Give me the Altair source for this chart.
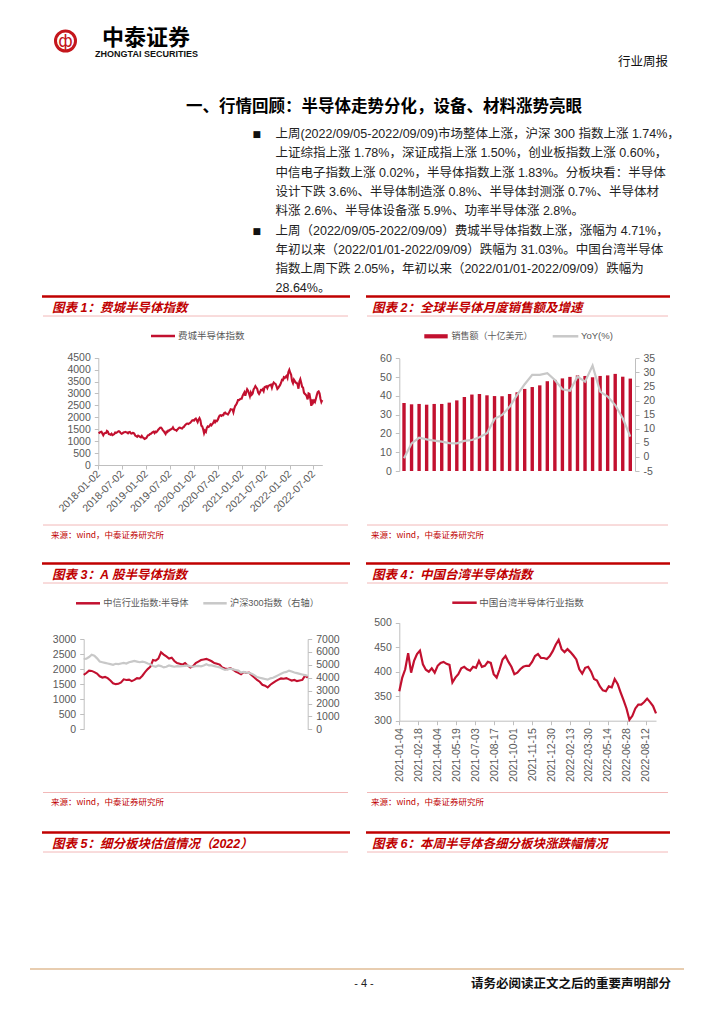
import altair as alt
import pandas as pd

# ---------------- page text ----------------
logo_cn = "中泰证券"
logo_en = "ZHONGTAI SECURITIES"
report_type = "行业周报"
heading = "一、行情回顾：半导体走势分化，设备、材料涨势亮眼"
body_lines = [
    "上周(2022/09/05-2022/09/09)市场整体上涨，沪深 300 指数上涨 1.74%，",
    "上证综指上涨 1.78%，深证成指上涨 1.50%，创业板指数上涨 0.60%，",
    "中信电子指数上涨 0.02%，半导体指数上涨 1.83%。分板块看：半导体",
    "设计下跌 3.6%、半导体制造涨 0.8%、半导体封测涨 0.7%、半导体材",
    "料涨 2.6%、半导体设备涨 5.9%、功率半导体涨 2.8%。",
    "上周（2022/09/05-2022/09/09）费城半导体指数上涨，涨幅为 4.71%，",
    "年初以来（2022/01/01-2022/09/09）跌幅为 31.03%。中国台湾半导体",
    "指数上周下跌 2.05%，年初以来（2022/01/01-2022/09/09）跌幅为",
    "28.64%。",
]
bullet_rows = [0, 5]
panel_titles = [
    "图表 1：费城半导体指数",
    "图表 2：全球半导体月度销售额及增速",
    "图表 3：A 股半导体指数",
    "图表 4：中国台湾半导体指数",
    "图表 5：细分板块估值情况（2022）",
    "图表 6：本周半导体各细分板块涨跌幅情况",
]
source_text = "来源：wind，中泰证券研究所"
page_no = "- 4 -"
disclaimer = "请务必阅读正文之后的重要声明部分"

# ---------------- chart 1: SOX (weekly) ----------------
sox_name = "费城半导体指数"
sox_start = "2018-01-05"
sox_values = [
    1320, 1360, 1390, 1400, 1320, 1250, 1320, 1340, 1340, 1430, 1400, 1300, 1290,
    1270, 1310, 1250, 1270, 1300, 1360, 1350, 1370, 1400, 1420, 1390, 1340, 1310,
    1330, 1360, 1370, 1390, 1370, 1360, 1330, 1380, 1390, 1330, 1320, 1350, 1340,
    1300, 1230, 1210, 1180, 1230, 1210, 1180, 1160, 1220, 1160, 1140, 1090, 1110,
    1130, 1200, 1250, 1260, 1300, 1310, 1350, 1380, 1400, 1340, 1400, 1380, 1420,
    1480, 1520, 1560, 1570, 1530, 1450, 1420, 1360, 1300, 1400, 1380, 1450, 1440,
    1480, 1500, 1520, 1580, 1500, 1480, 1470, 1440, 1490, 1530, 1570, 1560, 1540,
    1530, 1580, 1600, 1660, 1700, 1730, 1740, 1720, 1750, 1770, 1820, 1870, 1880,
    1860, 1920, 1950, 1880, 1800, 1900, 1970, 1880, 1650, 1620, 1500, 1330, 1440,
    1390, 1560, 1620, 1600, 1640, 1700, 1660, 1720, 1760, 1850, 1790, 1860, 1840,
    1900, 2000, 2070, 2090, 2060, 2100, 2090, 2180, 2200, 2150, 2150, 2120, 2180,
    2250, 2340, 2330, 2330, 2210, 2370, 2480, 2530, 2610, 2720, 2720, 2750, 2780,
    2780, 2900, 2980, 3050, 2900, 3050, 3180, 3120, 3000, 2880, 3040, 2950, 3000,
    3170, 3230, 3310, 3250, 3190, 3040, 2980, 3050, 3150, 3140, 3180, 3100, 3260,
    3280, 3300, 3220, 3320, 3330, 3360, 3370, 3240, 3380, 3460, 3420, 3400, 3310,
    3190, 3230, 3300, 3360, 3450, 3570, 3560, 3680, 3650, 3700, 3740, 3650, 3900, 3990,
    3870, 3780, 3520, 3430, 3580, 3520, 3450, 3450, 3380, 3200, 3500, 3600,
    3450, 3280, 3250, 3030, 2980, 2950, 2880, 2750, 3000, 2980, 2760, 2480, 2750,
    2620, 2700, 2640, 2780, 2930, 3060, 3090, 3010, 2780, 2640, 2720,
]
sox_domain = ["2018-01-02", "2022-09-09"]
sox_ticks = ["2018-01-02", "2018-07-02", "2019-01-02", "2019-07-02", "2020-01-02",
             "2020-07-02", "2021-01-02", "2021-07-02", "2022-01-02", "2022-07-02"]
sox_y_ticks = [0, 500, 1000, 1500, 2000, 2500, 3000, 3500, 4000, 4500]

# ---------------- chart 2: global monthly sales ----------------
sales_name = "销售额（十亿美元）"
yoy_name = "YoY(%)"
months = pd.period_range("2020-01", periods=31, freq="M").strftime("%Y-%m").tolist()
sales = [36.2, 35.5, 35.7, 35.3, 35.7, 35.7, 36.4, 37.6, 39.4, 40.7, 41.0, 40.3,
         39.9, 39.8, 41.0, 41.9, 43.7, 44.7, 45.6, 47.8, 48.5, 49.3, 50.1, 50.9,
         50.6, 49.9, 50.6, 50.9, 51.7, 50.2, 49.2]
yoy = [-0.5, 4.8, 6.8, 6.2, 5.8, 5.4, 4.9, 4.8, 5.7, 6.0, 7.0, 8.4,
       13.5, 14.9, 17.8, 22.0, 25.8, 29.1, 29.1, 29.7, 27.3, 24.0, 23.5, 28.5,
       26.7, 32.4, 23.2, 21.4, 18.4, 13.7, 7.2]
sales_ticks = [0, 10, 20, 30, 40, 50, 60]
yoy_ticks = [-5, 0, 5, 10, 15, 20, 25, 30, 35]

# ---------------- chart 3: A-share semiconductor vs CSI300 (weekly) ----------------
semi_name = "中信行业指数:半导体"
hs_name = "沪深300指数（右轴）"
a_start = "2021-01-25"
semi_values = [
    1810, 1870, 1950, 1940, 1900, 1850, 1760, 1720, 1740, 1700,
    1620, 1530, 1500, 1510, 1560, 1660, 1640, 1650, 1600,
    1640, 1700, 1690, 1780, 1900, 2000, 2080, 2300,
    2280, 2350, 2560, 2480, 2420, 2350, 2380, 2270, 2200,
    2180, 2150, 2200, 2120, 2050, 2100, 2200, 2250, 2300,
    2320, 2340, 2300, 2260,
    2200, 2180, 2150, 2050, 2020, 2000, 2030, 1980, 1920,
    1880, 1830, 1900, 1870, 1880, 1800, 1720, 1640,
    1580, 1480, 1450, 1390, 1480, 1540, 1600, 1650, 1690,
    1680, 1700, 1660, 1620, 1640, 1600, 1620, 1640, 1780, 1720,
]
hs300_values = [
    5450, 5480, 5600, 5780, 5700, 5500, 5250, 5200, 5150, 5100,
    5050, 5000, 5080, 5050, 5100, 5150, 5100, 5200, 5250,
    5300, 5250, 5200, 5250, 5200, 5100, 5050, 4900,
    4850, 4950, 4900, 4800, 4850, 4950, 4900, 4850, 4900,
    4880, 4900, 4920, 4950, 4880, 4850, 4900, 4920, 4880,
    4950, 5050, 4950, 4950,
    4900, 4850, 4800, 4700, 4600, 4650, 4700, 4650, 4600,
    4550, 4400, 4450, 4400, 4380, 4300, 4200, 4050,
    4000, 3950, 3900, 3850, 3950, 4000, 4100, 4200, 4300,
    4400, 4450, 4550, 4480, 4400, 4350, 4300, 4250, 4200, 4150,
]
a_ticks = ["2021-01-25", "2021-03-25", "2021-05-25", "2021-07-25", "2021-09-25",
           "2021-11-25", "2022-01-25", "2022-03-25", "2022-05-25", "2022-07-25"]
semi_y_ticks = [0, 500, 1000, 1500, 2000, 2500, 3000]
hs_y_ticks = [0, 1000, 2000, 3000, 4000, 5000, 6000, 7000]

# ---------------- chart 4: Taiwan semiconductor (weekly) ----------------
tw_name = "中国台湾半导体行业指数"
tw_start = "2021-01-04"
tw_values = [
    360, 388, 405, 438, 398, 422, 436, 443, 415, 404, 400, 407, 398,
    412, 418, 420, 416, 414, 378, 388, 395, 407, 410, 405, 402, 410,
    408, 422, 410, 412, 420, 418, 395, 388, 405, 425, 432, 420, 410,
    395, 398, 405, 410, 412, 412, 420, 432, 436, 428, 428, 426, 432,
    442, 455, 465, 446, 440, 446, 440, 433, 425, 405, 396, 408, 410,
    400, 385, 382, 370, 362, 360, 370, 368, 385, 375, 358, 342, 325,
    302, 310, 325, 333, 333, 338, 345, 338, 330, 315,
]
tw_ticks = ["2021-01-04", "2021-02-18", "2021-04-04", "2021-05-19", "2021-07-03",
            "2021-08-17", "2021-10-01", "2021-11-15", "2021-12-30", "2022-02-13",
            "2022-03-30", "2022-05-14", "2022-06-28", "2022-08-12"]
tw_y_ticks = [300, 350, 400, 450, 500]

# ---------------- styles ----------------
W, H = 700, 1000
RED = "#C2102F"
TITLE_RED = "#C00000"
PINK = "#F2B8B8"
GRAY_LINE = "#C8C8C8"
AXC = "#BFBFBF"
LBL = "#595959"
CJK = "Noto Sans CJK SC"
MIX = "Liberation Sans, Noto Sans CJK SC"
LAT = "Liberation Sans"
NUM_LABEL = "replace(format(datum.value, 'd'), '\u2212', '-')"


def px(x):
    return x - 8


def py(y):
    return y - 8


def dt(s):
    y, m, d = (int(v) for v in s.split("-"))
    return alt.DateTime(year=y, month=m, date=d)


def T(s, x, y, size=12, color="#000000", font=MIX, weight="normal", style="normal", align="left"):
    return alt.Chart(pd.DataFrame({"t": [s]})).mark_text(
        align=align, baseline="middle", font=font, fontSize=size,
        fontWeight=weight, fontStyle=style, color=color
    ).encode(text="t:N", x=alt.value(px(x)), y=alt.value(py(y)))


def R(x1, x2, y, color, w):
    return alt.Chart(pd.DataFrame({"a": [0]})).mark_rule(color=color, strokeWidth=w).encode(
        x=alt.value(px(x1)), x2=alt.value(px(x2)), y=alt.value(py(y)))


def BOX(x1, x2, y1, y2, color):
    return alt.Chart(pd.DataFrame({"a": [0]})).mark_rect(color=color).encode(
        x=alt.value(px(x1)), x2=alt.value(px(x2)), y=alt.value(py(y1)), y2=alt.value(py(y2)))


AX = dict(title=None, grid=False, domainColor=AXC, tickColor=AXC, tickSize=4,
          labelFont=LAT, labelFontSize=10.5, labelColor=LBL)


def xaxis(y_page, **kw):
    return alt.Axis(orient="bottom", offset=py(y_page) - H, labelFlush=False,
                    labelOverlap=False, **AX, **kw)


def yaxis_left(x_page, **kw):
    return alt.Axis(orient="left", offset=-px(x_page), labelPadding=4,
                    labelExpr=NUM_LABEL, **AX, **kw)


def yaxis_right(x_page, **kw):
    return alt.Axis(orient="right", offset=px(x_page) - W, labelPadding=4,
                    labelExpr=NUM_LABEL, **AX, **kw)


layers = []

# ---------------- header ----------------
layers.append(alt.Chart(pd.DataFrame({"a": [0]})).mark_point(
    shape="circle", filled=False, color="#C4161C", strokeWidth=3, size=400, opacity=1
).encode(x=alt.value(px(65.5)), y=alt.value(py(41))))
layers.append(T("ф", 65.5, 41.5, size=17, color="#C4161C", font="DejaVu Sans", align="center"))
layers.append(T(logo_cn, 146, 37.5, size=22, font=CJK, weight="bold", align="center"))
layers.append(T(logo_en, 146.5, 54, size=9, font=LAT, weight="bold", align="center", color="#111111"))
layers.append(T(report_type, 618, 62, size=12.5, font=CJK, color="#111111"))
layers.append(T(heading, 186, 106.5, size=16.5, font=CJK, weight="bold"))
for i, line in enumerate(body_lines):
    yy = 134 + 19.3 * i
    if i in bullet_rows:
        layers.append(T("■", 252.5, yy, size=9, font="DejaVu Sans", color="#111111"))
    layers.append(T(line, 275.5, yy, size=12.5, color="#222222"))

# ---------------- panel frames ----------------
panels = [
    (42, 350, 296.5, 525, 52, 51, panel_titles[0]),
    (366, 670, 296.5, 525, 372, 371, panel_titles[1]),
    (42, 350, 563.5, 792.5, 52, 51, panel_titles[2]),
    (366, 670, 563.5, 792.5, 372, 371, panel_titles[3]),
    (42, 350, 832.5, None, 52, 51, panel_titles[4]),
    (366, 670, 832.5, None, 372, 371, panel_titles[5]),
]
for x1, x2, top, bottom, tx, sx, title in panels:
    layers.append(R(x1, x2, top, TITLE_RED, 2.6))
    layers.append(T(title, tx, top + 11, size=12.5, color=TITLE_RED, weight="bold", style="italic"))
    layers.append(R(x1 + 1, x2 - 2, top + 19.5, PINK, 1))
    if bottom is not None:
        layers.append(R(x1 + 1, x2 - 2, bottom, PINK, 1))
        layers.append(T(source_text, sx, bottom + 9.5, size=8.5, color=TITLE_RED, font=CJK))

# ---------------- legends ----------------
layers.append(R(151, 175, 336, RED, 2.5))
layers.append(T(sox_name, 178, 336, size=9.5, color=LBL, font=CJK))
layers.append(BOX(424.3, 447.7, 334.2, 338.4, RED))
layers.append(T(sales_name, 451.5, 336.3, size=9, color=LBL, font=CJK))
layers.append(R(552.7, 578.3, 336.3, GRAY_LINE, 2.5))
layers.append(T(yoy_name, 581, 336.3, size=9.5, color=LBL, font=LAT))
layers.append(R(76, 100, 603.3, RED, 2.5))
layers.append(T(semi_name, 103.3, 603.3, size=9.2, color=LBL, font=CJK))
layers.append(R(203.3, 226.7, 603.3, GRAY_LINE, 2.5))
layers.append(T(hs_name, 230, 603.3, size=9.2, color=LBL, font=MIX))
layers.append(R(452.3, 476.7, 602.7, RED, 2.5))
layers.append(T(tw_name, 479.3, 602.7, size=9.5, color=LBL, font=CJK))

# ---------------- chart 1 ----------------
c1_df = pd.DataFrame({"date": pd.date_range(sox_start, periods=len(sox_values), freq="W-FRI"),
                      "v": sox_values})
c1 = alt.Chart(c1_df).mark_line(color=RED, strokeWidth=2.1).encode(
    x=alt.X("date:T",
            scale=alt.Scale(domain=[dt(s) for s in sox_domain], range=[px(98.3), px(322.3)], nice=False),
            axis=xaxis(465, values=[dt(s) for s in sox_ticks], format="%Y-%m-%d",
                       labelAngle=-45, labelAlign="right", labelBaseline="middle", labelPadding=3)),
    y=alt.Y("v:Q", scale=alt.Scale(domain=[0, 4500], range=[py(465), py(357.7)], nice=False, zero=False),
            axis=yaxis_left(98.3, values=sox_y_ticks)),
)
layers.append(c1)

# ---------------- chart 2 ----------------
c2_df = pd.DataFrame({"m": months, "sales": sales, "yoy": yoy})
bars = alt.Chart(c2_df).mark_bar(color=RED).encode(
    x=alt.X("m:O", sort=months,
            scale=alt.Scale(range=[px(399.3), px(635)], paddingInner=0.55, paddingOuter=0.4),
            axis=xaxis(471, values=months[::2], labelAngle=-90, labelAlign="right",
                       labelBaseline="middle", labelPadding=3)),
    y=alt.Y("sales:Q", scale=alt.Scale(domain=[0, 60], range=[py(471), py(358.3)], nice=False),
            axis=yaxis_left(399.3, values=sales_ticks)),
)
yline = alt.Chart(c2_df).mark_line(color=GRAY_LINE, strokeWidth=2.2).encode(
    x=alt.X("m:O", sort=months, axis=None),
    y=alt.Y("yoy:Q", scale=alt.Scale(domain=[-5, 35], range=[py(471), py(358.3)], nice=False, zero=False),
            axis=yaxis_right(635, values=yoy_ticks)),
)
c2 = alt.layer(bars, yline).resolve_scale(y="independent")
layers.append(c2)

# ---------------- chart 3 ----------------
c3_df = pd.DataFrame({"date": pd.date_range(a_start, periods=len(semi_values), freq="W-MON"),
                      "semi": semi_values, "hs": hs300_values})
a_end = c3_df["date"].iloc[-1].strftime("%Y-%m-%d")
red3 = alt.Chart(c3_df).mark_line(color=RED, strokeWidth=2.1).encode(
    x=alt.X("date:T",
            scale=alt.Scale(domain=[dt(a_start), dt(a_end)], range=[px(83.7), px(307.7)], nice=False),
            axis=xaxis(729.3, values=[dt(s) for s in a_ticks], format="%Y-%m-%d",
                       labelAngle=-90, labelAlign="right", labelBaseline="middle", labelPadding=3)),
    y=alt.Y("semi:Q", scale=alt.Scale(domain=[0, 3000], range=[py(729.3), py(639)], nice=False),
            axis=yaxis_left(83.7, values=semi_y_ticks)),
)
gray3 = alt.Chart(c3_df).mark_line(color=GRAY_LINE, strokeWidth=2.2).encode(
    x=alt.X("date:T", axis=None),
    y=alt.Y("hs:Q", scale=alt.Scale(domain=[0, 7000], range=[py(729.3), py(639)], nice=False),
            axis=yaxis_right(307.7, values=hs_y_ticks)),
)
c3 = alt.layer(red3, gray3).resolve_scale(y="independent")
layers.append(c3)

# ---------------- chart 4 ----------------
c4_df = pd.DataFrame({"date": pd.date_range(tw_start, periods=len(tw_values), freq="W-MON"),
                      "v": tw_values})
tw_end = c4_df["date"].iloc[-1].strftime("%Y-%m-%d")
c4 = alt.Chart(c4_df).mark_line(color=RED, strokeWidth=2.2).encode(
    x=alt.X("date:T",
            scale=alt.Scale(domain=[dt(tw_start), dt(tw_end)], range=[px(399.3), px(656)], nice=False),
            axis=xaxis(720.7, values=[dt(s) for s in tw_ticks], format="%Y-%m-%d",
                       labelAngle=-90, labelAlign="right", labelBaseline="middle", labelPadding=3)),
    y=alt.Y("v:Q", scale=alt.Scale(domain=[300, 500], range=[py(720.7), py(622.7)], nice=False, zero=False),
            axis=yaxis_left(399.3, values=tw_y_ticks)),
)
layers.append(c4)

# ---------------- footer ----------------
layers.append(R(30, 684, 969, "#E8CDB0", 2))
layers.append(T(page_no, 364, 983.5, size=11, font=LAT, align="center", color="#222222"))
layers.append(T(disclaimer, 471, 983.5, size=12.5, font=CJK, weight="bold", color="#111111"))

chart = alt.layer(*layers).resolve_scale(x="independent", y="independent").properties(
    width=W, height=H,
    autosize=alt.AutoSizeParams(type="none"),
    padding={"left": 0, "top": 0, "right": 0, "bottom": 0},
    background="white",
).configure_view(stroke=None)

chart.save("out.html", embed_options={"renderer": "svg", "actions": False})
